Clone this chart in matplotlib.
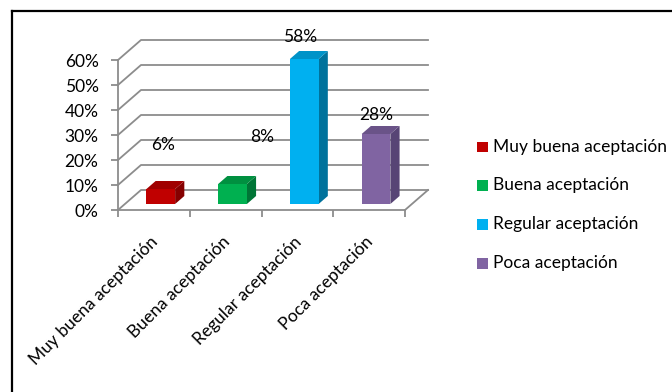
import matplotlib
matplotlib.use("Agg")
import matplotlib.pyplot as plt
from matplotlib.patches import Polygon, Rectangle
from matplotlib.lines import Line2D
from matplotlib.transforms import ScaledTranslation

categories = ["Muy buena aceptación", "Buena aceptación", "Regular aceptación", "Poca aceptación"]
values = [6, 8, 58, 28]
y_ticks = [0, 10, 20, 30, 40, 50, 60]

front_colors = ["#C00000", "#00B050", "#00B0F0", "#8064A2"]
top_colors = ["#A00000", "#009040", "#0093C8", "#6A5388"]
side_colors = ["#850000", "#007536", "#00729C", "#574475"]

# label placement offsets (category units, percent units)
label_dx = [0.13, 0.51, 0.04, 0.10]
label_dy = [20, 21, 11, 10]

plt.rcParams["font.family"] = ["Lato", "DejaVu Sans"]
FS = 12.5
GRID = "#8C8C8C"

W, H = 672, 392
fig = plt.figure(figsize=(W / 100, H / 100), dpi=100)
fig.patch.set_facecolor("white")

# front plane of the 3-D box in pixels
x_left, x_right, y_zero, y_top = 118, 405, 210, 60
ax = fig.add_axes([x_left / W, 1 - y_zero / H, (x_right - x_left) / W, (y_zero - y_top) / H])
n = len(categories)
ax.set_xlim(-0.5, n - 0.5)
ax.set_ylim(0, 60)
ax.patch.set_alpha(0)

cat_px = (x_right - x_left) / n
pct_px = (y_zero - y_top) / 60
DX = 23 / cat_px   # depth offset in category units
DY = 20 / pct_px   # depth offset in percent units

for s in ("top", "right"):
    ax.spines[s].set_visible(False)
for s in ("left", "bottom"):
    ax.spines[s].set_color(GRID)
    ax.spines[s].set_linewidth(1.3)

# grid: diagonal on the side wall plus horizontal on the back wall
for v in y_ticks:
    ax.plot([-0.5, -0.5 + DX, n - 0.5 + DX], [v, v + DY, v + DY],
            color=GRID, lw=1.3, clip_on=False, zorder=1)
# floor right edge
ax.plot([n - 0.5, n - 0.5 + DX], [0, DY], color=GRID, lw=1.3, clip_on=False, zorder=1)

# y axis ticks and labels (nudged slightly downward)
ax.set_yticks(y_ticks)
ax.set_yticklabels([f"{v}%" for v in y_ticks], fontsize=FS, va="center")
ax.tick_params(axis="y", length=5, width=1.3, color=GRID, pad=9)
nudge = ScaledTranslation(0, -1.5 / 72, fig.dpi_scale_trans)
for t in ax.get_yticklabels():
    t.set_transform(t.get_transform() + nudge)

# x axis: boundary ticks, centered category labels
ax.set_xticks([i - 0.5 for i in range(n + 1)], minor=True)
ax.tick_params(axis="x", which="minor", length=5, width=1.3, color=GRID)
ax.set_xticks(range(n))
ax.set_xticklabels([])
ax.tick_params(axis="x", which="major", length=0)
for i, c in enumerate(categories):
    ax.annotate(c, xy=(i, 0), xytext=(1, -21), textcoords="offset points",
                rotation=45, rotation_mode="anchor", ha="right", va="center",
                fontsize=FS, annotation_clip=False)

# 3-D bars
w = 0.4
f0, bd = 0.3, 0.4
for i, v in enumerate(values):
    x0 = i - w / 2 + f0 * DX
    y0 = f0 * DY
    ox, oy = bd * DX, bd * DY
    side = Polygon([(x0 + w, y0), (x0 + w + ox, y0 + oy), (x0 + w + ox, y0 + v + oy), (x0 + w, y0 + v)],
                   closed=True, facecolor=side_colors[i], edgecolor="none", clip_on=False, zorder=3)
    top = Polygon([(x0, y0 + v), (x0 + w, y0 + v), (x0 + w + ox, y0 + v + oy), (x0 + ox, y0 + v + oy)],
                  closed=True, facecolor=top_colors[i], edgecolor="none", clip_on=False, zorder=3)
    front = Rectangle((x0, y0), w, v, facecolor=front_colors[i], edgecolor="none", clip_on=False, zorder=4)
    for p in (side, top, front):
        ax.add_patch(p)
    ax.text(i + label_dx[i], v + label_dy[i], f"{v}%", ha="center", va="center",
            fontsize=FS, zorder=5, clip_on=False)

# legend
leg_y = [147, 185, 224, 263]
for c, col, yy in zip(categories, front_colors, leg_y):
    fig.patches.append(Rectangle((477 / W, 1 - (yy + 5.5) / H), 11 / W, 11 / H,
                                 transform=fig.transFigure, facecolor=col, edgecolor="none"))
    fig.text(493 / W, 1 - yy / H, c, ha="left", va="center", fontsize=FS)

# outer frame (left and top edges)
fig.add_artist(Line2D([12 / W, 12 / W], [0, 1 - 11 / H], transform=fig.transFigure,
                      color="black", lw=1.6))
fig.add_artist(Line2D([12 / W, 1], [1 - 11 / H, 1 - 11 / H], transform=fig.transFigure,
                      color="black", lw=1.6))

fig.savefig("out.png", dpi=100)
